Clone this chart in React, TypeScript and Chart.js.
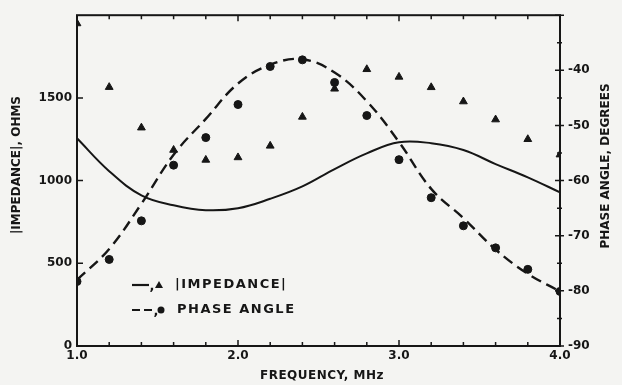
import React, { useEffect, useRef } from 'react';
import { Chart, registerables } from 'chart.js';

Chart.register(...registerables);

// ---- data ----
const frequency = [1.0, 1.2, 1.4, 1.6, 1.8, 2.0, 2.2, 2.4, 2.6, 2.8, 3.0, 3.2, 3.4, 3.6, 3.8, 4.0];
const impedanceMeasured = [1950, 1565, 1320, 1185, 1125, 1140, 1210, 1385, 1555, 1673, 1627, 1564, 1478, 1369, 1250, 1157];
const phaseMeasured = [-78.3, -74.3, -67.3, -57.2, -52.2, -46.2, -39.3, -38.1, -42.2, -48.2, -56.2, -63.1, -68.2, -72.2, -76.1, -80.1];
const impedanceFit = [1256, 1057, 911, 851, 821, 833, 890, 965, 1070, 1165, 1232, 1226, 1185, 1100, 1020, 929];
const phaseFit = [-78.0, -72.4, -64.2, -55.3, -48.8, -42.4, -39.0, -38.0, -40.4, -45.6, -53.0, -61.5, -66.8, -72.5, -76.9, -80.1];
const xTickLabels = [1.0, 2.0, 3.0, 4.0];
const impedanceTicks = [0, 500, 1000, 1500];
const phaseTicks = [-90, -80, -70, -60, -50, -40];
const phaseMinorTicks = [-90, -85, -80, -75, -70, -65, -60, -55, -50, -45, -40, -35, -30];

const INK = '#161616';
const BG = '#f4f4f2';
const FONT = '"DejaVu Sans", sans-serif';

const decorPlugin = {
  id: 'decor',
  beforeDraw(chart: any) {
    const ctx = chart.ctx;
    ctx.save();
    ctx.fillStyle = BG;
    ctx.fillRect(0, 0, chart.width, chart.height);
    ctx.restore();
  },
  afterDraw(chart: any) {
    const ctx = chart.ctx;
    const { left, right, top, bottom } = chart.chartArea;
    const xs = chart.scales.x;
    const yl = chart.scales.y;
    const yr = chart.scales.y1;
    ctx.save();
    ctx.strokeStyle = INK;
    ctx.fillStyle = INK;
    ctx.lineWidth = 2;
    ctx.strokeRect(left, top, right - left, bottom - top);

    ctx.lineWidth = 1.5;
    ctx.beginPath();
    frequency.forEach((f) => {
      const px = xs.getPixelForValue(f);
      const len = Math.abs(f - Math.round(f)) < 1e-6 ? 6 : 4;
      ctx.moveTo(px, bottom);
      ctx.lineTo(px, bottom - len);
      ctx.moveTo(px, top);
      ctx.lineTo(px, top + len);
    });
    impedanceTicks.forEach((v) => {
      const py = yl.getPixelForValue(v);
      ctx.moveTo(left, py);
      ctx.lineTo(left + 6, py);
    });
    phaseMinorTicks.forEach((v) => {
      const py = yr.getPixelForValue(v);
      const major = v % 10 === 0;
      ctx.moveTo(right - (major ? 5 : 3), py);
      ctx.lineTo(right + (major ? 4 : 2), py);
    });
    ctx.stroke();

    // axis titles
    ctx.font = `bold 12px ${FONT}`;
    ctx.textAlign = 'center';
    ctx.textBaseline = 'middle';
    ctx.save();
    ctx.translate(17, 165);
    ctx.rotate(-Math.PI / 2);
    ctx.fillText('|IMPEDANCE|, OHMS', 0, 0);
    ctx.restore();
    ctx.save();
    ctx.translate(606, 166);
    ctx.rotate(-Math.PI / 2);
    ctx.fillText('PHASE ANGLE, DEGREES', 0, 0);
    ctx.restore();
    ctx.font = `bold 12px ${FONT}`;
    (ctx as any).letterSpacing = '0.5px';
    ctx.fillText('FREQUENCY, MHz', 322, 376);
    (ctx as any).letterSpacing = '0px';

    // legend
    const r1 = 285;
    const r2 = 310;
    ctx.lineWidth = 2.2;
    ctx.setLineDash([]);
    ctx.beginPath();
    ctx.moveTo(132, r1);
    ctx.lineTo(149, r1);
    ctx.stroke();
    ctx.beginPath();
    ctx.moveTo(132, r2);
    ctx.lineTo(140, r2);
    ctx.moveTo(144, r2);
    ctx.lineTo(152, r2);
    ctx.stroke();
    ctx.font = `bold 13px ${FONT}`;
    ctx.textAlign = 'center';
    ctx.fillText(',', 152, r1 + 2);
    ctx.fillText(',', 156, r2 + 2);
    ctx.beginPath();
    ctx.moveTo(159, r1 - 4);
    ctx.lineTo(163, r1 + 3);
    ctx.lineTo(155, r1 + 3);
    ctx.closePath();
    ctx.fill();
    ctx.beginPath();
    ctx.arc(161, r2, 3.5, 0, Math.PI * 2);
    ctx.fill();
    ctx.textAlign = 'left';
    (ctx as any).letterSpacing = '1.5px';
    ctx.fillText('|IMPEDANCE|', 175, r1);
    ctx.fillText('PHASE ANGLE', 177, r2);
    (ctx as any).letterSpacing = '0px';
    ctx.restore();
  },
};

export default function App() {
  const canvasRef = useRef<HTMLCanvasElement | null>(null);

  useEffect(() => {
    document.body.style.margin = '0';
    document.body.style.background = BG;
    const canvas = canvasRef.current;
    if (!canvas) return;
    const pts = (ys: number[]) => frequency.map((x, i) => ({ x, y: ys[i] }));
    const chart = new Chart(canvas, {
      type: 'line',
      data: {
        datasets: [
          {
            label: '|IMPEDANCE| fit',
            data: pts(impedanceFit),
            yAxisID: 'y',
            borderColor: INK,
            borderWidth: 2,
            pointRadius: 0,
            tension: 0.4,
            fill: false,
          },
          {
            label: 'PHASE ANGLE fit',
            data: pts(phaseFit),
            yAxisID: 'y1',
            borderColor: INK,
            borderWidth: 2.4,
            borderDash: [11, 6],
            pointRadius: 0,
            tension: 0.4,
            fill: false,
          },
          {
            label: '|IMPEDANCE|',
            data: pts(impedanceMeasured),
            yAxisID: 'y',
            showLine: false,
            pointStyle: 'triangle',
            pointRadius: 4.5,
            pointBackgroundColor: INK,
            pointBorderColor: INK,
            pointBorderWidth: 1,
          },
          {
            label: 'PHASE ANGLE',
            data: pts(phaseMeasured),
            yAxisID: 'y1',
            showLine: false,
            pointStyle: 'circle',
            pointRadius: 4,
            pointBackgroundColor: INK,
            pointBorderColor: INK,
            pointBorderWidth: 1,
          },
        ],
      },
      options: {
        responsive: false,
        animation: false,
        devicePixelRatio: 1,
        layout: { padding: { top: 8, left: 0, right: 0, bottom: 0 } },
        plugins: { legend: { display: false }, tooltip: { enabled: false } },
        scales: {
          x: {
            type: 'linear',
            min: 1,
            max: 4,
            afterBuildTicks: (s: any) => {
              s.ticks = xTickLabels.map((v) => ({ value: v }));
            },
            afterFit: (s: any) => {
              s.height = 39;
            },
            grid: { display: false, drawTicks: false },
            border: { display: false },
            ticks: {
              color: INK,
              padding: 3,
              maxRotation: 0,
              font: { family: FONT, size: 12, weight: 'bold' },
              callback: (v: any) => Number(v).toFixed(1),
            },
          },
          y: {
            type: 'linear',
            position: 'left',
            min: 0,
            max: 2000,
            afterBuildTicks: (s: any) => {
              s.ticks = impedanceTicks.map((v) => ({ value: v }));
            },
            afterFit: (s: any) => {
              s.width = 77;
            },
            grid: { display: false, drawTicks: false },
            border: { display: false },
            ticks: {
              color: INK,
              padding: 5,
              font: { family: FONT, size: 12, weight: 'bold' },
              callback: (v: any) => String(v),
            },
          },
          y1: {
            type: 'linear',
            position: 'right',
            min: -90,
            max: -30,
            afterBuildTicks: (s: any) => {
              s.ticks = phaseTicks.map((v) => ({ value: v }));
            },
            afterFit: (s: any) => {
              s.width = 62;
            },
            grid: { display: false, drawTicks: false },
            border: { display: false },
            ticks: {
              color: INK,
              padding: 8,
              font: { family: FONT, size: 12, weight: 'bold' },
              callback: (v: any) => String(v),
            },
          },
        },
      },
      plugins: [decorPlugin],
    } as any);
    return () => chart.destroy();
  }, []);

  return (
    <div style={{ width: 622, height: 385, position: 'relative' }}>
      <canvas ref={canvasRef} width={622} height={385} style={{ display: 'block' }} />
    </div>
  );
}
